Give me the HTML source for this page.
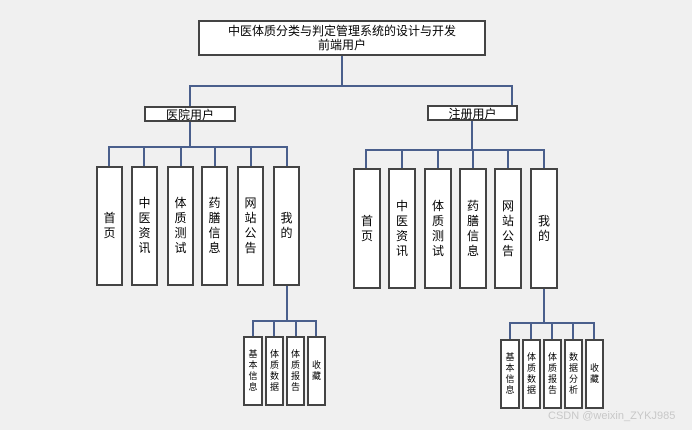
<!DOCTYPE html>
<html><head><meta charset="utf-8"><style>
body{margin:0;width:692px;height:430px;background:#f0f0f0;position:relative;overflow:hidden;font-family:"Liberation Sans","Noto Sans CJK SC",sans-serif;}
.b{position:absolute;background:#fff;border:2px solid #444;box-sizing:border-box;display:flex;align-items:center;justify-content:center;text-align:center;color:#000;}
.v{font-size:12px;line-height:15px;}
.s{font-size:9px;line-height:11px;border-width:2px;}
.h{position:absolute;height:2px;background:#4a5f8c;}
.l{position:absolute;width:2px;background:#4a5f8c;}
</style></head><body>
<div class="b" style="left:198px;top:20px;width:288px;height:36px;font-size:12px;line-height:14px;">中医体质分类与判定管理系统的设计与开发<br>前端用户</div>
<div class="l" style="left:341px;top:56px;height:31px"></div>
<div class="h" style="left:189px;top:85px;width:323px"></div>
<div class="l" style="left:189px;top:85px;height:22px"></div>
<div class="l" style="left:511px;top:85px;height:21px"></div>
<div class="b" style="left:144px;top:106px;width:92px;height:16px;font-size:12px;">医院用户</div>
<div class="b" style="left:427px;top:105px;width:91px;height:16px;font-size:12px;">注册用户</div>
<div class="l" style="left:189px;top:122px;height:26px"></div>
<div class="h" style="left:108px;top:146px;width:180px"></div>
<div class="l" style="left:108px;top:146px;height:20px"></div>
<div class="l" style="left:143px;top:146px;height:20px"></div>
<div class="l" style="left:180px;top:146px;height:20px"></div>
<div class="l" style="left:214px;top:146px;height:20px"></div>
<div class="l" style="left:250px;top:146px;height:20px"></div>
<div class="l" style="left:286px;top:146px;height:20px"></div>
<div class="b v" style="left:96px;top:166px;width:27px;height:120px;">首<br>页</div>
<div class="b v" style="left:131px;top:166px;width:27px;height:120px;">中<br>医<br>资<br>讯</div>
<div class="b v" style="left:167px;top:166px;width:27px;height:120px;">体<br>质<br>测<br>试</div>
<div class="b v" style="left:201px;top:166px;width:27px;height:120px;">药<br>膳<br>信<br>息</div>
<div class="b v" style="left:237px;top:166px;width:27px;height:120px;">网<br>站<br>公<br>告</div>
<div class="b v" style="left:273px;top:166px;width:27px;height:120px;">我<br>的</div>
<div class="l" style="left:471px;top:121px;height:30px"></div>
<div class="h" style="left:365px;top:149px;width:180px"></div>
<div class="l" style="left:365px;top:149px;height:19px"></div>
<div class="l" style="left:401px;top:149px;height:19px"></div>
<div class="l" style="left:437px;top:149px;height:19px"></div>
<div class="l" style="left:472px;top:149px;height:19px"></div>
<div class="l" style="left:507px;top:149px;height:19px"></div>
<div class="l" style="left:543px;top:149px;height:19px"></div>
<div class="b v" style="left:353px;top:168px;width:28px;height:121px;">首<br>页</div>
<div class="b v" style="left:388px;top:168px;width:28px;height:121px;">中<br>医<br>资<br>讯</div>
<div class="b v" style="left:424px;top:168px;width:28px;height:121px;">体<br>质<br>测<br>试</div>
<div class="b v" style="left:459px;top:168px;width:28px;height:121px;">药<br>膳<br>信<br>息</div>
<div class="b v" style="left:494px;top:168px;width:28px;height:121px;">网<br>站<br>公<br>告</div>
<div class="b v" style="left:530px;top:168px;width:28px;height:121px;">我<br>的</div>
<div class="l" style="left:286px;top:286px;height:36px"></div>
<div class="h" style="left:252px;top:320px;width:65px"></div>
<div class="l" style="left:252px;top:320px;height:16px"></div>
<div class="l" style="left:273px;top:320px;height:16px"></div>
<div class="l" style="left:295px;top:320px;height:16px"></div>
<div class="l" style="left:315px;top:320px;height:16px"></div>
<div class="b s" style="left:243px;top:336px;width:20px;height:70px;">基<br>本<br>信<br>息</div>
<div class="b s" style="left:265px;top:336px;width:19px;height:70px;">体<br>质<br>数<br>据</div>
<div class="b s" style="left:286px;top:336px;width:19px;height:70px;">体<br>质<br>报<br>告</div>
<div class="b s" style="left:307px;top:336px;width:19px;height:70px;">收<br>藏</div>
<div class="l" style="left:543px;top:289px;height:35px"></div>
<div class="h" style="left:509px;top:322px;width:86px"></div>
<div class="l" style="left:509px;top:322px;height:17px"></div>
<div class="l" style="left:530px;top:322px;height:17px"></div>
<div class="l" style="left:551px;top:322px;height:17px"></div>
<div class="l" style="left:572px;top:322px;height:17px"></div>
<div class="l" style="left:593px;top:322px;height:17px"></div>
<div class="b s" style="left:500px;top:339px;width:20px;height:70px;">基<br>本<br>信<br>息</div>
<div class="b s" style="left:522px;top:339px;width:19px;height:70px;">体<br>质<br>数<br>据</div>
<div class="b s" style="left:543px;top:339px;width:19px;height:70px;">体<br>质<br>报<br>告</div>
<div class="b s" style="left:564px;top:339px;width:19px;height:70px;">数<br>据<br>分<br>析</div>
<div class="b s" style="left:585px;top:339px;width:19px;height:70px;">收<br>藏</div>
<div style="position:absolute;left:548px;top:410px;font-size:11px;color:#c8c8c8;">CSDN @weixin_ZYKJ985</div>
</body></html>
